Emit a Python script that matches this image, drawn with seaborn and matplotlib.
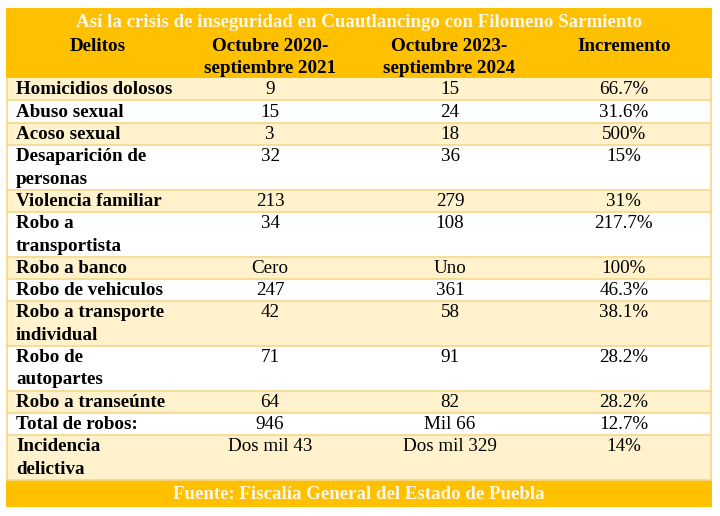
import matplotlib
matplotlib.use("Agg")
import matplotlib.pyplot as plt
import seaborn as sns

titulo = "Así la crisis de inseguridad en Cuautlancingo con Filomeno Sarmiento"
fuente = "Fuente: Fiscalía General del Estado de Puebla"
encabezados = ["Delitos", "Octubre 2020-\nseptiembre 2021", "Octubre 2023-\nseptiembre 2024", "Incremento"]

delitos = ["Homicidios dolosos", "Abuso sexual", "Acoso sexual", "Desaparición de\npersonas",
           "Violencia familiar", "Robo a\ntransportista", "Robo a banco", "Robo de vehiculos",
           "Robo a transporte\nindividual", "Robo de\nautopartes", "Robo a transeúnte",
           "Total de robos:", "Incidencia\ndelictiva"]
periodo_2021 = ["9", "15", "3", "32", "213", "34", "Cero", "247", "42", "71", "64", "946", "Dos mil 43"]
periodo_2024 = ["15", "24", "18", "36", "279", "108", "Uno", "361", "58", "91", "82", "Mil 66", "Dos mil 329"]
incremento = ["66.7%", "31.6%", "500%", "15%", "31%", "217.7%", "100%", "46.3%", "38.1%",
              "28.2%", "28.2%", "12.7%", "14%"]

# colores
oro = "#FFC000"
crema = "#FFF2CC"
linea = "#F7D88A"

sns.set_style("white")
plt.rcParams["font.family"] = ["Liberation Serif", "DejaVu Serif"]

fig = plt.figure(figsize=(7.2, 5.16), dpi=100)
ax = fig.add_axes([6 / 720, 1 - 507 / 516, 706 / 720, 499 / 516])

# alturas en "líneas" (1 línea ~ 22.3 px)
h_titulo = 1.12
h_encab = 2.02
h_pie = 1.21
alturas = [d.count("\n") + 1 for d in delitos]
total = h_titulo + h_encab + sum(alturas) + h_pie

# fondos de filas
tops = []
y = h_titulo + h_encab
for h in alturas:
    tops.append(y)
    y += h
centros = [t + h / 2 for t, h in zip(tops, alturas)]
colores = [crema if i % 2 == 0 else "white" for i in range(len(delitos))]
ax.barh(centros, [1] * len(delitos), height=alturas, left=0, color=colores, edgecolor="none")
ax.barh([(h_titulo + h_encab) / 2], [1], height=h_titulo + h_encab, left=0, color=oro, edgecolor="none")
ax.barh([total - h_pie / 2], [1], height=h_pie, left=0, color=oro, edgecolor="none")

# líneas horizontales
ax.hlines(tops[1:] + [y], 0, 1, color=linea, lw=1.2)
ax.vlines([0.0015, 0.9985], h_titulo + h_encab, y, color=linea, lw=1.2)

fs = 13.7
# título y pie
ax.text(0.5, h_titulo / 2 + 0.08, titulo, ha="center", va="center", color="#FFF8E6",
        fontsize=13.6, fontweight="bold")
ax.text(0.5, total - h_pie / 2 + 0.05, fuente, ha="center", va="center", color="#FFF8E6",
        fontsize=13.6, fontweight="bold")

# encabezados
xs_enc = [0.130, 0.374, 0.627, 0.875]
for xc, enc in zip(xs_enc, encabezados):
    for j, parte in enumerate(enc.split("\n")):
        ax.text(xc, h_titulo + 0.6 + j, parte, ha="center", va="center",
                fontsize=fs, fontweight="bold", color="black")

# cuerpo
for t, d, a, b, c in zip(tops, delitos, periodo_2021, periodo_2024, incremento):
    for j, parte in enumerate(d.split("\n")):
        ax.text(0.014, t + 0.52 + j, parte, ha="left", va="center",
                fontsize=fs, fontweight="bold", color="black")
    ax.text(0.374, t + 0.52, a, ha="center", va="center", fontsize=fs, color="black")
    ax.text(0.629, t + 0.52, b, ha="center", va="center", fontsize=fs, color="black")
    ax.text(0.875, t + 0.52, c, ha="center", va="center", fontsize=fs, color="black")

ax.set_xlim(0, 1)
ax.set_ylim(total, 0)
ax.axis("off")

fig.savefig("out.png", dpi=100, facecolor="white")
